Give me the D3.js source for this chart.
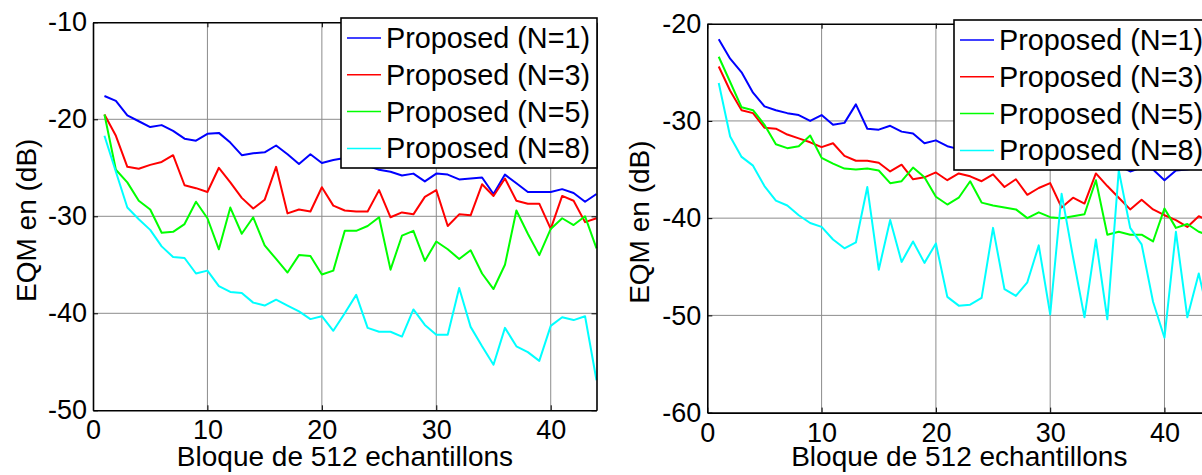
<!DOCTYPE html>
<html>
<head>
<meta charset="utf-8">
<script src="https://cdn.jsdelivr.net/npm/d3@7"></script>
<style>
  body { margin: 0; background: #fff; overflow: hidden; }
  svg { display: block; font-family: "Liberation Sans", Arial, sans-serif; }
</style>
</head>
<body>
<svg id="chart" width="1202" height="475"></svg>
<script>
// block index (x axis)
var blocks = [1,2,3,4,5,6,7,8,9,10,11,12,13,14,15,16,17,18,19,20,21,22,
              23,24,25,26,27,28,29,30,31,32,33,34,35,36,37,38,39,40,41,42,43,44];

var seriesNames = ["Proposed (N=1)", "Proposed (N=3)", "Proposed (N=5)", "Proposed (N=8)"];
var xTicks = [0, 10, 20, 30, 40];
var leftYTicks = [-10, -20, -30, -40, -50];
var rightYTicks = [-20, -30, -40, -50, -60];

// left figure
var leftN1 = [-17.6,-18.1,-19.6,-20.2,-20.8,-20.6,-21.2,-22.0,-22.2,-21.5,-21.4,-22.4,-23.7,-23.5,-23.4,-22.7,-23.6,-24.6,-23.6,-24.5,-24.2,-24.0,
              -24.4,-24.8,-25.2,-25.4,-25.8,-25.6,-26.4,-25.6,-25.7,-26.2,-26.1,-26.0,-27.7,-25.7,-26.6,-27.5,-27.5,-27.5,-27.2,-27.6,-28.5,-27.7];
var leftN3 = [-19.5,-21.7,-24.9,-25.1,-24.7,-24.4,-23.7,-26.8,-27.1,-27.5,-25.0,-26.5,-28.1,-29.2,-28.3,-24.9,-29.7,-29.3,-29.5,-27.0,-28.9,-29.4,
              -29.5,-29.5,-27.3,-30.1,-29.6,-29.8,-28.0,-27.3,-31.0,-29.8,-29.9,-26.7,-27.9,-26.1,-28.4,-28.7,-28.7,-31.3,-27.9,-28.4,-30.6,-30.2];
var leftN5 = [-19.5,-25.2,-26.5,-28.4,-29.3,-31.7,-31.6,-30.8,-28.5,-30.2,-33.4,-29.1,-31.8,-30.1,-33.0,-34.4,-35.8,-34.0,-34.1,-36.0,-35.6,-31.5,
              -31.5,-31.0,-30.1,-35.5,-32.0,-31.5,-34.6,-32.6,-33.4,-34.4,-33.5,-35.9,-37.5,-35.0,-29.4,-31.8,-34.0,-31.3,-30.2,-30.9,-30.0,-33.3];
var leftN8 = [-21.7,-25.4,-29.1,-30.3,-31.4,-33.1,-34.2,-34.3,-35.9,-35.6,-37.2,-37.8,-37.9,-38.9,-39.2,-38.6,-39.2,-39.8,-40.6,-40.3,-41.8,-40.0,
              -38.1,-41.5,-41.9,-41.9,-42.4,-39.6,-41.2,-42.2,-42.2,-37.4,-41.4,-43.4,-45.3,-41.5,-43.4,-44.0,-44.9,-41.3,-40.4,-40.7,-40.3,-46.9];

// right figure
var rightN1 = [-21.6,-23.6,-25.0,-27.1,-28.5,-28.9,-29.2,-29.4,-30.0,-29.4,-30.4,-30.2,-28.3,-30.8,-30.9,-30.5,-31.1,-31.3,-32.3,-32.0,-32.6,-32.9,
               -33.0,-32.8,-33.4,-33.2,-33.6,-33.5,-33.9,-33.7,-34.0,-34.2,-34.0,-34.5,-34.3,-34.6,-35.2,-34.8,-35.0,-36.1,-35.1,-35.0,-34.8,-35.2];
var rightN3 = [-24.4,-26.9,-28.9,-29.2,-30.7,-30.8,-31.4,-31.8,-32.2,-32.7,-32.3,-33.6,-34.1,-34.1,-34.3,-35.2,-34.5,-36.0,-35.8,-35.3,-36.1,-35.4,
               -35.7,-36.2,-35.5,-36.8,-36.0,-37.6,-36.9,-36.4,-38.9,-37.9,-38.5,-35.4,-36.7,-37.9,-39.1,-38.1,-39.1,-39.7,-40.2,-40.9,-39.8,-40.3];
var rightN5 = [-23.4,-26.0,-28.6,-28.9,-30.4,-32.4,-32.8,-32.6,-31.5,-33.8,-34.4,-34.9,-35.0,-34.9,-35.1,-36.4,-36.2,-34.8,-35.8,-37.8,-38.6,-37.9,
               -36.2,-38.4,-38.7,-38.9,-39.1,-40.0,-39.4,-39.9,-40.0,-39.8,-39.6,-36.1,-41.7,-41.4,-41.7,-41.7,-42.4,-39.0,-41.0,-40.6,-41.4,-41.8];
var rightN8 = [-26.1,-31.6,-33.7,-34.6,-36.7,-38.2,-38.7,-39.7,-40.5,-40.9,-42.2,-43.1,-42.5,-36.8,-45.3,-40.2,-44.5,-42.4,-44.6,-42.6,-48.1,-49.0,
               -48.9,-48.2,-41.0,-47.3,-48.0,-46.6,-42.8,-49.9,-37.5,-44.0,-50.2,-42.2,-50.4,-35.1,-41.0,-42.7,-48.6,-52.3,-41.4,-50.2,-45.7,-50.8];

var colors = ["#0000ff", "#ff0000", "#00ff00", "#00ffff"];

var svg = d3.select("#chart");
svg.append("rect").attr("width", 1202).attr("height", 475).attr("fill", "#fff");

// plain hyphen for negative numbers, like the original
function fmt(d) { return String(d); }

function drawPanel(p) {
    var x = d3.scaleLinear().domain([0, 44]).range([p.left, p.right]);
    var y = d3.scaleLinear().domain(p.yDomain).range([p.bottom, p.top]);
    var g = svg.append("g");

    // grid
    g.selectAll(".gx").data(xTicks.slice(1)).enter().append("line")
        .attr("x1", function(d) { return x(d); }).attr("x2", function(d) { return x(d); })
        .attr("y1", p.top).attr("y2", p.bottom)
        .attr("stroke", "#8c8c8c").attr("stroke-width", 1);
    g.selectAll(".gy").data(p.yTicks.slice(1, -1)).enter().append("line")
        .attr("y1", function(d) { return y(d); }).attr("y2", function(d) { return y(d); })
        .attr("x1", p.left).attr("x2", p.right)
        .attr("stroke", "#8c8c8c").attr("stroke-width", 1);

    // series
    var line = d3.line()
        .x(function(d, i) { return x(blocks[i]); })
        .y(function(d) { return y(d); });
    p.series.forEach(function(s, k) {
        g.append("path").datum(s)
            .attr("d", line)
            .attr("fill", "none")
            .attr("stroke", colors[k])
            .attr("stroke-width", 2)
            .attr("stroke-linejoin", "round");
    });

    // axes
    g.append("g").attr("transform", "translate(0," + p.bottom + ")")
        .call(d3.axisBottom(x).tickValues(xTicks).tickFormat(fmt).tickSizeInner(-5).tickSizeOuter(0).tickPadding(10));
    g.append("g").attr("transform", "translate(" + p.left + ",0)")
        .call(d3.axisLeft(y).tickValues(p.yTicks).tickFormat(fmt).tickSizeInner(-5).tickSizeOuter(0).tickPadding(6));
    g.append("g").attr("transform", "translate(0," + p.top + ")")
        .call(d3.axisTop(x).tickValues(xTicks).tickSizeInner(-5).tickSizeOuter(0).tickFormat(""));
    g.append("g").attr("transform", "translate(" + p.right + ",0)")
        .call(d3.axisRight(y).tickValues(p.yTicks).tickSizeInner(-5).tickSizeOuter(0).tickFormat(""));

    g.selectAll(".domain").attr("stroke", "#000").attr("stroke-width", 1.6);
    g.selectAll(".tick line").attr("stroke", "#000");
    g.selectAll(".tick text").attr("font-size", 27).attr("fill", "#000")
        .attr("font-family", "Liberation Sans, Arial, sans-serif");

    // labels
    g.append("text")
        .attr("x", p.left + 252)
        .attr("y", 466)
        .attr("text-anchor", "middle")
        .attr("font-size", 28)
        .text("Bloque de 512 echantillons");
    g.append("text")
        .attr("transform", "translate(" + p.ylabX + "," + ((p.top + p.bottom) / 2 + 4) + ") rotate(-90)")
        .attr("text-anchor", "middle")
        .attr("font-size", 28)
        .text("EQM en (dB)");

    // legend
    var lg = g.append("g").attr("transform", "translate(" + p.legX + "," + p.legY + ")");
    lg.append("rect").attr("width", p.legW).attr("height", 150)
        .attr("fill", "#fff").attr("stroke", "#000").attr("stroke-width", 1.6);
    seriesNames.forEach(function(name, k) {
        var yy = 20 + k * 36.8;
        lg.append("line").attr("x1", 6).attr("x2", 40).attr("y1", yy).attr("y2", yy)
            .attr("stroke", colors[k]).attr("stroke-width", 1.5);
        lg.append("text").attr("x", 45).attr("y", yy).attr("dy", "0.35em")
            .attr("font-size", 28.8).text(name);
    });
}

drawPanel({
    left: 93, right: 596.5, top: 22.3, bottom: 410.3,
    yDomain: [-50, -10], yTicks: leftYTicks,
    series: [leftN1, leftN3, leftN5, leftN8],
    ylabX: 36, legX: 341, legY: 18, legW: 256
});
drawPanel({
    left: 707.3, right: 1210.2, top: 23.7, bottom: 412.6,
    yDomain: [-60, -20], yTicks: rightYTicks,
    series: [rightN1, rightN3, rightN5, rightN8],
    ylabX: 649, legX: 954, legY: 20, legW: 262
});
</script>
</body>
</html>
